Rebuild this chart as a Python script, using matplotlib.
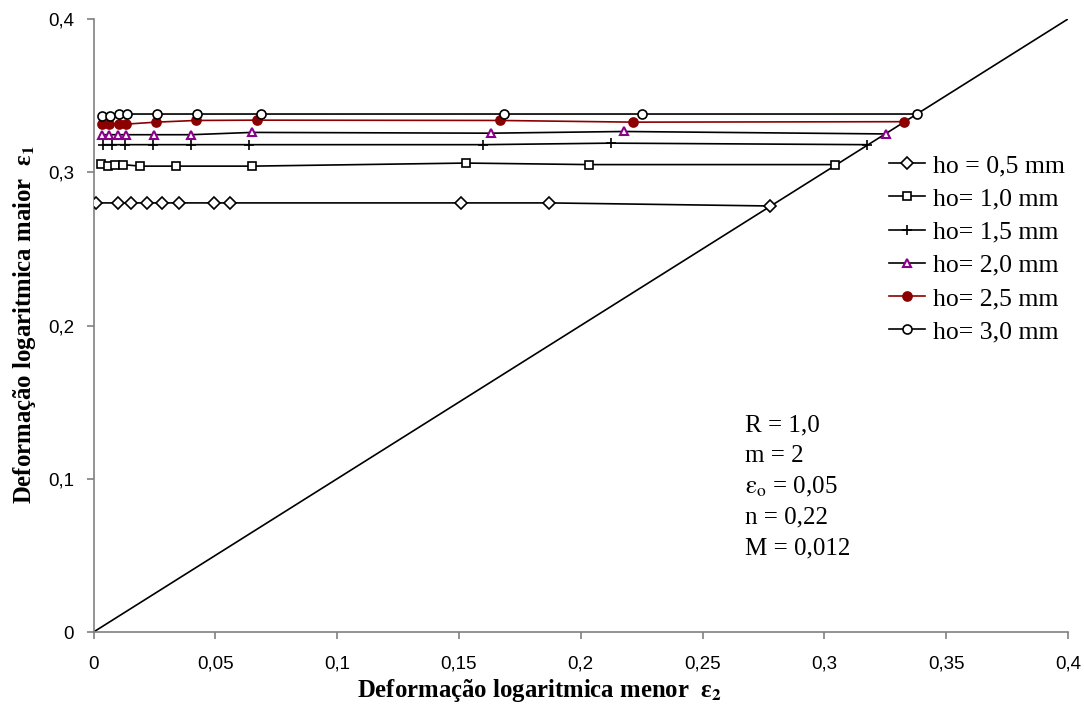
import matplotlib
matplotlib.use("Agg")
import matplotlib.pyplot as plt
from matplotlib.ticker import FixedLocator

# ---------------- data ----------------
x_ticks = [0, 0.05, 0.1, 0.15, 0.2, 0.25, 0.3, 0.35, 0.4]
x_tick_labels = ["0", "0,05", "0,1", "0,15", "0,2", "0,25", "0,3", "0,35", "0,4"]
y_ticks = [0, 0.1, 0.2, 0.3, 0.4]
y_tick_labels = ["0", "0,1", "0,2", "0,3", "0,4"]

labels = ["ho = 0,5 mm", "ho= 1,0 mm", "ho= 1,5 mm",
          "ho= 2,0 mm", "ho= 2,5 mm", "ho= 3,0 mm"]

h05_x = [0.001, 0.010, 0.0154, 0.022, 0.028, 0.035, 0.0495, 0.056, 0.151, 0.187, 0.2775]
h05_y = [0.280, 0.280, 0.280, 0.280, 0.280, 0.280, 0.280, 0.280, 0.280, 0.280, 0.278]

h10_x = [0.003, 0.006, 0.009, 0.012, 0.019, 0.034, 0.065, 0.153, 0.2035, 0.3045]
h10_y = [0.3055, 0.304, 0.305, 0.305, 0.304, 0.304, 0.304, 0.306, 0.305, 0.305]

h15_x = [0.0038, 0.0077, 0.0129, 0.0244, 0.040, 0.064, 0.160, 0.2124, 0.3174]
h15_y = [0.318, 0.318, 0.318, 0.318, 0.318, 0.318, 0.318, 0.319, 0.318]

h20_x = [0.0034, 0.0065, 0.0102, 0.0133, 0.025, 0.040, 0.065, 0.163, 0.2178, 0.3253]
h20_y = [0.3245, 0.3245, 0.3245, 0.3245, 0.3245, 0.3245, 0.326, 0.3255, 0.3266, 0.325]

h25_x = [0.0034, 0.0065, 0.0105, 0.0133, 0.0257, 0.042, 0.067, 0.1669, 0.2216, 0.3325]
h25_y = [0.3314, 0.3314, 0.3314, 0.3314, 0.3327, 0.3338, 0.334, 0.3338, 0.3327, 0.333]

h30_x = [0.0034, 0.0068, 0.0106, 0.0136, 0.0262, 0.0424, 0.0689, 0.1686, 0.225, 0.338]
h30_y = [0.337, 0.337, 0.338, 0.338, 0.338, 0.338, 0.338, 0.338, 0.338, 0.338]

diag_x = [0, 0.4]
diag_y = [0, 0.4]

params = ["R = 1,0", "m = 2", r"$\mathrm{\varepsilon_o}$ = 0,05", "n = 0,22", "M = 0,012"]

# ---------------- figure ----------------
plt.rcParams["mathtext.fontset"] = "stix"
SERIF = "Liberation Serif"
SANS = "Liberation Sans"

fig = plt.figure(figsize=(10.84, 7.2), dpi=100)
ax = fig.add_axes([0.0863, 0.1222, 0.9852 - 0.0863, 0.9736 - 0.1222])

DARKRED = "#8B0000"
PURPLE = "#8B008B"
lw = 1.2

ax.plot(diag_x, diag_y, color="black", lw=lw, zorder=2)

series = [
    (h05_x, h05_y, dict(marker="D", ms=5.8, mfc="white", mec="black", color="black")),
    (h10_x, h10_y, dict(marker="s", ms=6.0, mfc="white", mec="black", color="black")),
    (h15_x, h15_y, dict(marker="+", ms=7.5, mew=1.2, mec="black", color="black")),
    (h20_x, h20_y, dict(marker="^", ms=5.8, mfc="white", mec=PURPLE, mew=1.5, color="black")),
    (h25_x, h25_y, dict(marker="o", ms=6.5, mfc=DARKRED, mec=DARKRED, color=DARKRED)),
    (h30_x, h30_y, dict(marker="o", ms=6.5, mfc="white", mec="black", color="black")),
]
handles = []
for (xs, ys, st), lab in zip(series, labels):
    kw = dict(lw=lw, zorder=3, mew=1.2)
    kw.update(st)
    h, = ax.plot(xs, ys, label=lab, **kw)
    handles.append(h)

ax.set_xlim(0, 0.4)
ax.set_ylim(0, 0.4)
ax.xaxis.set_major_locator(FixedLocator(x_ticks))
ax.yaxis.set_major_locator(FixedLocator(y_ticks))
ax.set_xticklabels(x_tick_labels)
ax.set_yticklabels(y_tick_labels)

for s in ["top", "right"]:
    ax.spines[s].set_visible(False)
for s in ["left", "bottom"]:
    ax.spines[s].set_color("#808080")
    ax.spines[s].set_linewidth(1.2)

ax.tick_params(axis="both", direction="out", length=5, width=1.2,
               color="#808080", labelsize=13.5)
ax.tick_params(axis="x", pad=12)
ax.tick_params(axis="y", pad=9)
for t in ax.get_xticklabels() + ax.get_yticklabels():
    t.set_fontfamily(SANS)

# axis labels
fig.text(539 / 1084, 1 - 691 / 720,
         r"Deformação logaritmica menor  ε$_\mathbf{2}$",
         ha="center", va="center", fontsize=17.8, fontweight="bold", family=SERIF)
fig.text(25 / 1084, 1 - 325 / 720,
         r"Deformação logaritmica maior  ε$_\mathbf{1}$",
         ha="center", va="center", rotation=90, fontsize=17.8, fontweight="bold", family=SERIF)

# legend
leg = ax.legend(handles=handles, loc="upper left",
                bbox_to_anchor=(889 / 1084, 1 - 154 / 720), bbox_transform=fig.transFigure,
                frameon=False, prop={"family": SERIF, "size": 18.5},
                handlelength=1.4, handletextpad=0.3, labelspacing=0.4,
                borderpad=0, borderaxespad=0)

# parameter text
for i, p in enumerate(params):
    fig.text(745 / 1084, 1 - (425 + 30.8 * i) / 720, p, ha="left", va="center",
             fontsize=18, family=SERIF)

fig.savefig("out.png", dpi=100)
